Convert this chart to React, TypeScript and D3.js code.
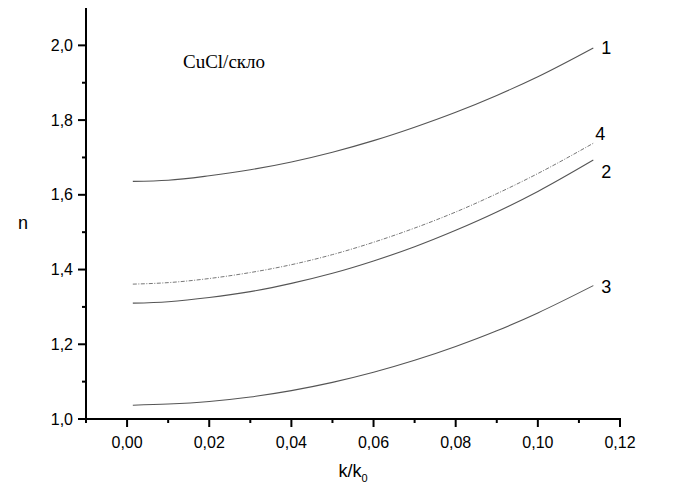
import React from 'react';
import * as d3 from 'd3';

// k/k0 values where the curves were read
const kRatio = [0.0014, 0.01, 0.02, 0.03, 0.04, 0.05, 0.06, 0.07, 0.08, 0.09, 0.10, 0.1135];

const curve1 = [1.636, 1.639, 1.651, 1.667, 1.688, 1.714, 1.745, 1.781, 1.821, 1.866, 1.916, 1.993];
const curve2 = [1.310, 1.314, 1.325, 1.341, 1.363, 1.390, 1.423, 1.461, 1.505, 1.554, 1.609, 1.693];
const curve3 = [1.037, 1.040, 1.047, 1.059, 1.076, 1.098, 1.125, 1.157, 1.194, 1.236, 1.284, 1.357];
const curve4 = [1.361, 1.365, 1.376, 1.392, 1.413, 1.440, 1.473, 1.511, 1.554, 1.603, 1.657, 1.738];

const seriesNames = ['1', '2', '3', '4'];
const seriesValues = [curve1, curve2, curve3, curve4];

const xTickValues = [0, 0.02, 0.04, 0.06, 0.08, 0.10, 0.12];
const xMinorValues = [-0.01, 0.01, 0.03, 0.05, 0.07, 0.09, 0.11];
const yTickValues = [1.0, 1.2, 1.4, 1.6, 1.8, 2.0];
const yMinorValues = [1.1, 1.3, 1.5, 1.7, 1.9];

const title = 'CuCl/скло';

const App: React.FC = () => {
  const width = 675;
  const height = 490;
  const left = 86;
  const right = 620;
  const top = 8;
  const bottom = 419;

  const xScale = d3.scaleLinear().domain([-0.01, 0.12]).range([left, right]);
  const yScale = d3.scaleLinear().domain([1.0, 2.1]).range([bottom, top]);

  const fmtX = (v: number) => v.toFixed(2).replace('.', ',');
  const fmtY = (v: number) => v.toFixed(1).replace('.', ',');

  const line = d3.line<number>()
    .x((_, i) => xScale(kRatio[i]))
    .y(d => yScale(d))
    .curve(d3.curveMonotoneX);

  const font = '"Liberation Sans", Arial, sans-serif';
  // label offsets next to the end of each curve
  const labelDy: { [k: string]: number } = { '1': 6, '2': 18, '3': 7, '4': -3 };
  const labelDx: { [k: string]: number } = { '1': 8, '2': 8, '3': 8, '4': 2 };

  return (
    <svg width={width} height={height} style={{ position: 'absolute', left: 0, top: 0, background: '#fff' }}>
      {seriesValues.map((vals, i) => {
        const name = seriesNames[i];
        const dashed = name === '4';
        const last = vals.length - 1;
        return (
          <g key={name}>
            <path d={line(vals) || ''} fill="none" stroke={dashed ? '#777' : '#555'}
              strokeWidth={dashed ? 1 : 1.1} strokeDasharray={dashed ? '4 1.5 1 1.5' : undefined} />
            <text x={xScale(kRatio[last]) + labelDx[name]} y={yScale(vals[last]) + labelDy[name]}
              fontFamily={font} fontSize={18} fill="#000">{name}</text>
          </g>
        );
      })}

      {/* y axis */}
      <line x1={left} x2={left} y1={top} y2={bottom + 1} stroke="#000" strokeWidth={2} />
      {yTickValues.map(v => (
        <g key={v} transform={`translate(${left}, ${yScale(v)})`}>
          <line x1={-8} x2={0} stroke="#000" strokeWidth={2} />
          <text x={-13} y={5.5} textAnchor="end" fontFamily={font} fontSize={16}>{fmtY(v)}</text>
        </g>
      ))}
      {yMinorValues.map(v => (
        <line key={v} x1={left - 4} x2={left} y1={yScale(v)} y2={yScale(v)} stroke="#000" strokeWidth={2} />
      ))}

      {/* x axis */}
      <line x1={left - 1} x2={right + 1} y1={bottom} y2={bottom} stroke="#000" strokeWidth={2} />
      {xTickValues.map(v => (
        <g key={v} transform={`translate(${xScale(v)}, ${bottom})`}>
          <line y1={0} y2={8} stroke="#000" strokeWidth={2} />
          <text y={29} textAnchor="middle" fontFamily={font} fontSize={16}>{fmtX(v)}</text>
        </g>
      ))}
      {xMinorValues.map(v => (
        <line key={v} x1={xScale(v)} x2={xScale(v)} y1={bottom} y2={bottom + 4} stroke="#000" strokeWidth={2} />
      ))}

      <text x={23} y={229} textAnchor="middle" fontFamily={font} fontSize={18}>n</text>
      <text x={(left + right) / 2} y={477} textAnchor="middle" fontFamily={font} fontSize={18}>
        k/k<tspan fontSize={11} dy={5}>0</tspan>
      </text>
      <text x={183} y={68} fontFamily='"Liberation Serif", "Times New Roman", serif' fontSize={19}>{title}</text>
    </svg>
  );
};

export default App;
